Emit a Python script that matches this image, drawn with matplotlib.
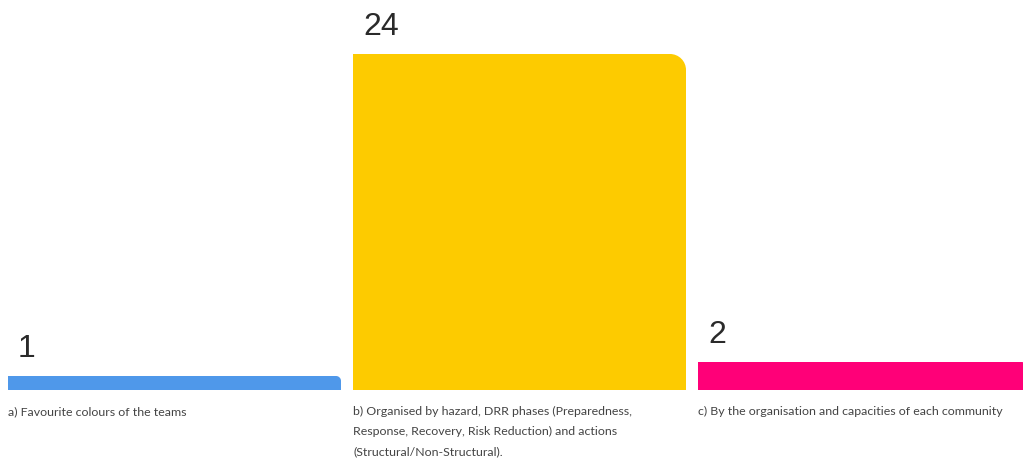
import matplotlib
matplotlib.use("Agg")
import matplotlib.pyplot as plt
from matplotlib.path import Path
from matplotlib.patches import PathPatch
from matplotlib.transforms import IdentityTransform

# data
labels = [
    "a) Favourite colours of the teams",
    "b) Organised by hazard, DRR phases (Preparedness,\nResponse, Recovery, Risk Reduction) and actions\n(Structural/Non-Structural).",
    "c) By the organisation and capacities of each community",
]
values = [1, 24, 2]
colors = ["#4f98ea", "#fdcb00", "#ff0078"]

W, H, DPI = 1023, 459, 100
fig = plt.figure(figsize=(W / DPI, H / DPI), dpi=DPI)
ax = fig.add_axes([0, 0, 1, 1])

# pixel layout: bars are 333 px wide on a 345 px pitch, baseline 69 px from bottom, 14 px per unit
pitch = 345.0
first_center = 174.5
ax.set_xlim(-first_center / pitch, (W - first_center) / pitch)
ax.set_ylim(-69 / 14.0, (H - 69) / 14.0)
ax.axis("off")

x = list(range(len(values)))
bars = ax.bar(x, values, width=333 / pitch, color=colors)

fig.canvas.draw()

def rounded_top_right(x0, y0, x1, y1, r):
    # rectangle in pixels with only the top-right corner rounded
    k = 0.5523
    verts = [(x0, y0), (x1, y0), (x1, y1 - r),
             (x1, y1 - r + k * r), (x1 - r + k * r, y1), (x1 - r, y1),
             (x0, y1), (x0, y0)]
    codes = [Path.MOVETO, Path.LINETO, Path.LINETO,
             Path.CURVE4, Path.CURVE4, Path.CURVE4,
             Path.LINETO, Path.CLOSEPOLY]
    return Path(verts, codes)

for b, c, v, lab in zip(bars, colors, values, labels):
    bb = b.get_window_extent()
    b.set_visible(False)
    r = min(16, bb.height * 0.35)
    patch = PathPatch(rounded_top_right(bb.x0, bb.y0, bb.x1, bb.y1, r),
                      facecolor=c, edgecolor="none", transform=IdentityTransform())
    fig.add_artist(patch)
    left = b.get_x()
    # value above the bar
    ax.annotate(str(v), xy=(left, v), xytext=(10, 19), textcoords="offset pixels",
                ha="left", va="baseline", fontsize=23, color="#2a2a2a",
                family="Liberation Sans")
    # category text below the bar
    ax.annotate(lab, xy=(left, 0), xytext=(0, -16), textcoords="offset pixels",
                ha="left", va="top", fontsize=8.9, color="#444444",
                family="Lato", linespacing=1.99)

fig.savefig("out.png", dpi=DPI, facecolor="white")
